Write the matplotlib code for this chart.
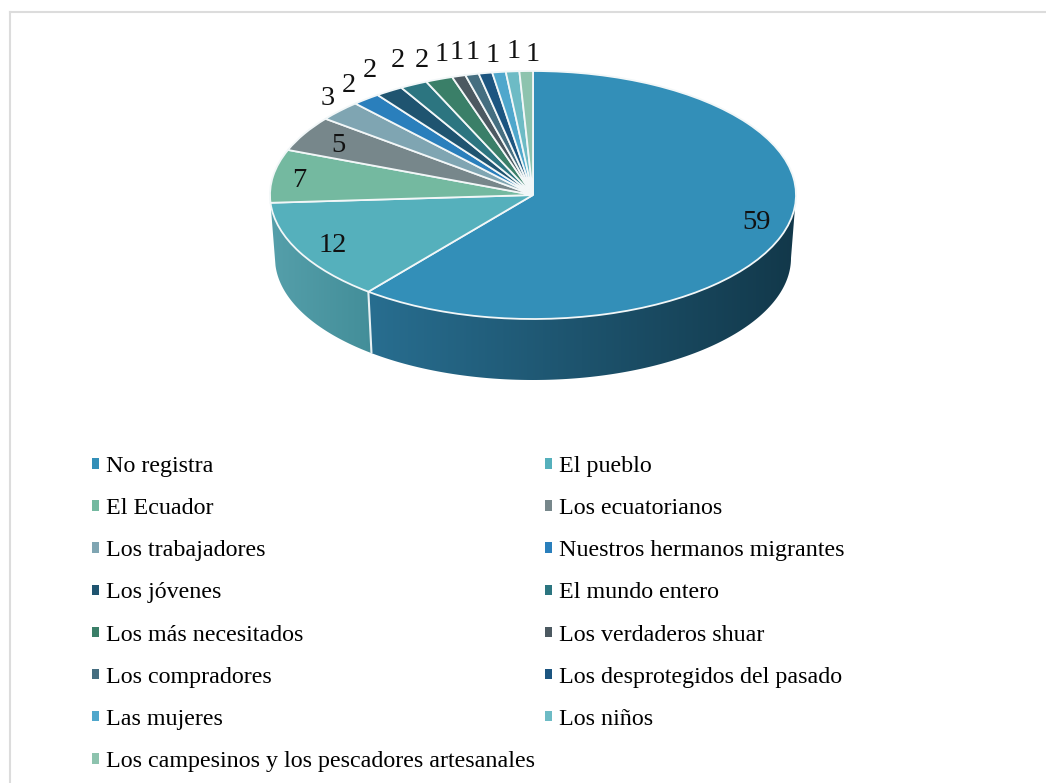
import numpy as np
import matplotlib
matplotlib.use("Agg")
import matplotlib.pyplot as plt
from matplotlib.patches import Patch, Polygon
from matplotlib.lines import Line2D
from matplotlib.colors import to_rgb

categories = ["No registra", "El pueblo", "El Ecuador", "Los ecuatorianos", "Los trabajadores",
              "Nuestros hermanos migrantes", "Los jóvenes", "El mundo entero", "Los más necesitados",
              "Los verdaderos shuar", "Los compradores", "Los desprotegidos del pasado",
              "Las mujeres", "Los niños", "Los campesinos y los pescadores artesanales"]
values = [59, 12, 7, 5, 3, 2, 2, 2, 2, 1, 1, 1, 1, 1, 1]
colors = ["#338FB8", "#55B0BC", "#74B9A0", "#77878B", "#7FA5B2", "#2A7FBC", "#1F5470", "#2C7580",
          "#3A7F68", "#4C5961", "#456E80", "#1C5580", "#4FA7CC", "#6DBBC5", "#8DC3AE"]
# pixel anchors of the value labels in the reference
label_px = [(757, 223), (333, 246), (299, 181), (338, 146), (328, 99), (349, 86), (370, 71),
            (398, 61), (422, 61), (442, 55), (457, 53), (473, 53), (493, 56), (514, 52), (533, 55)]

W, H = 1046, 783
CX, CY, RX, RY = 533, 195, 263, 124
RXB, CYB, RYB = 258, 258, 122
K = 0.826
plt.rcParams['font.family'] = ['Liberation Serif', 'DejaVu Serif']

fig = plt.figure(figsize=(W / 100, H / 100), dpi=100, facecolor='white')
ax = fig.add_axes([0, 0, 1, 1])


def warp(phi):
    """Perspective of the tilted disc: angle clockwise from the top, in radians."""
    return 2 * np.arctan2(K * np.sin(phi / 2), np.cos(phi / 2)) % (2 * np.pi)


edges = np.cumsum([0] + values) / sum(values) * 2 * np.pi
shown = np.array([0.0] + [warp(e) if i < len(values) - 1 else 2 * np.pi for i, e in enumerate(edges[1:])])
spans = np.diff(shown)

ax.pie(spans, colors=colors, startangle=90, counterclock=False, radius=1,
       wedgeprops=dict(edgecolor='#F2F7F8', linewidth=1.3, zorder=3))


def top_pt(p):
    return np.sin(p), np.cos(p)


def bot_pt(p):
    return np.sin(p) * RXB / RX, (CY - CYB) / RY + np.cos(p) * RYB / RY


def wall(p0, p1, c_left, c_right):
    ps = np.linspace(p0, p1, 200)
    tx, ty = top_pt(ps)
    bx, by = bot_pt(ps)
    xy = np.r_[np.c_[tx, ty], np.c_[bx, by][::-1]]
    poly = Polygon(xy, closed=True, facecolor='none', edgecolor='none', transform=ax.transData)
    ax.add_patch(poly)
    f = np.linspace(0, 1, 256)[:, None]
    grad = (np.array(to_rgb(c_left))[None, :] * (1 - f) + np.array(to_rgb(c_right))[None, :] * f)[None, :, :]
    im = ax.imshow(grad, extent=[xy[:, 0].min(), xy[:, 0].max(), xy[:, 1].min(), xy[:, 1].max()],
                   aspect='auto', zorder=1, interpolation='bilinear')
    im.set_clip_path(poly)


wall(np.pi / 2, shown[1], "#286E90", "#12384A")
wall(shown[1], shown[2], "#559FAA", "#438E99")
x0, y0 = top_pt(shown[1]); x1, y1 = bot_pt(shown[1])
ax.plot([x0, x1], [y0, y1], color='#E8F1F3', lw=1.5, zorder=2, solid_capstyle='butt')

ax.set_aspect('auto')
ax.set_xlim(-CX / RX, (W - CX) / RX)
ax.set_ylim((CY - H) / RY, CY / RY)
ax.set_position([0, 0, 1, 1])

for v, (px, py) in zip(values, label_px):
    ax.text((px - CX) / RX, (CY - py) / RY, str(v), fontsize=20.5, color='#111111',
            ha='center', va='center', zorder=5)

order = list(range(0, len(categories), 2)) + list(range(1, len(categories), 2))
handles = [Patch(facecolor=colors[i], edgecolor='none') for i in order]
labels = [categories[i] for i in order]
ax.legend(handles, labels, ncol=2, frameon=False, fontsize=17.3, loc='upper left',
          bbox_to_anchor=(92 / W, 1 - 456 / H), borderpad=0, borderaxespad=0,
          handlelength=0.29, handleheight=0.29, handletextpad=0.29, labelspacing=0.88, columnspacing=0.43)

for xs, ys in [((9.5 / W, 9.5 / W), (0, 1 - 12 / H)), ((9.5 / W, 1), (1 - 12 / H, 1 - 12 / H))]:
    fig.add_artist(Line2D(xs, ys, color='#DCDCDC', lw=1.5, transform=fig.transFigure))

fig.savefig('out.png', dpi=100)
